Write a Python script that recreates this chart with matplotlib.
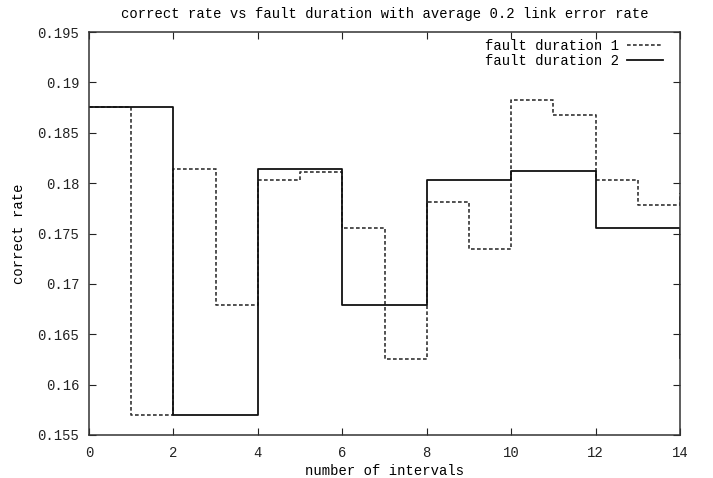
import matplotlib
matplotlib.use("Agg")
import matplotlib.pyplot as plt
from matplotlib.ticker import FormatStrFormatter, MultipleLocator

# fault duration 1: one value per interval
x1 = [0, 1, 2, 3, 4, 5, 6, 7, 8, 9, 10, 11, 12, 13, 14]
y1 = [0.1876, 0.1570, 0.1814, 0.1679, 0.1803, 0.1811, 0.1755, 0.1625,
      0.1781, 0.1735, 0.1883, 0.1868, 0.1803, 0.1778, 0.1790]

# fault duration 2: one value every two intervals
x2 = [0, 2, 4, 6, 8, 10, 12, 14]
y2 = [0.1876, 0.1570, 0.1814, 0.1679, 0.1803, 0.1812, 0.1755, 0.1626]

plt.rcParams['font.family'] = ['Liberation Mono', 'DejaVu Sans Mono']
plt.rcParams['font.size'] = 10

fig = plt.figure(figsize=(7.13, 4.78), dpi=100)
ax = fig.add_axes([89 / 713, 1 - 435 / 478, (680 - 89) / 713, (435 - 32) / 478])

ax.step(x1, y1, where='post', color='#333333', lw=1.2,
        linestyle=(0, (2.2, 1.4)), label='fault duration 1')
ax.step(x2, y2, where='post', color='#111111', lw=1.3,
        label='fault duration 2')

ax.set_xlim(0, 14)
ax.set_ylim(0.155, 0.195)
ax.xaxis.set_major_locator(MultipleLocator(2))
ax.yaxis.set_major_locator(MultipleLocator(0.005))
ax.yaxis.set_major_formatter(FormatStrFormatter('%g'))
ax.tick_params(direction='in', length=5, width=0.8, top=True, right=True,
               colors='#222222', labelsize=10)
ax.tick_params(axis='x', pad=8)
ax.tick_params(axis='y', pad=7)

for s in ax.spines.values():
    s.set_linewidth(1.1)
    s.set_color('#333333')

ax.set_title('correct rate vs fault duration with average 0.2 link error rate',
             fontsize=10, pad=10)
ax.set_xlabel('number of intervals', fontsize=10, labelpad=3)
ax.set_ylabel('correct rate', fontsize=10, labelpad=8)

ax.legend(loc='upper right', bbox_to_anchor=(0.983, 1.0), frameon=False,
          markerfirst=False, handlelength=2.6, labelspacing=0.05,
          borderaxespad=0.3, handletextpad=0.6, fontsize=10, borderpad=0.2)

fig.savefig('out.png', dpi=100, facecolor='white')
